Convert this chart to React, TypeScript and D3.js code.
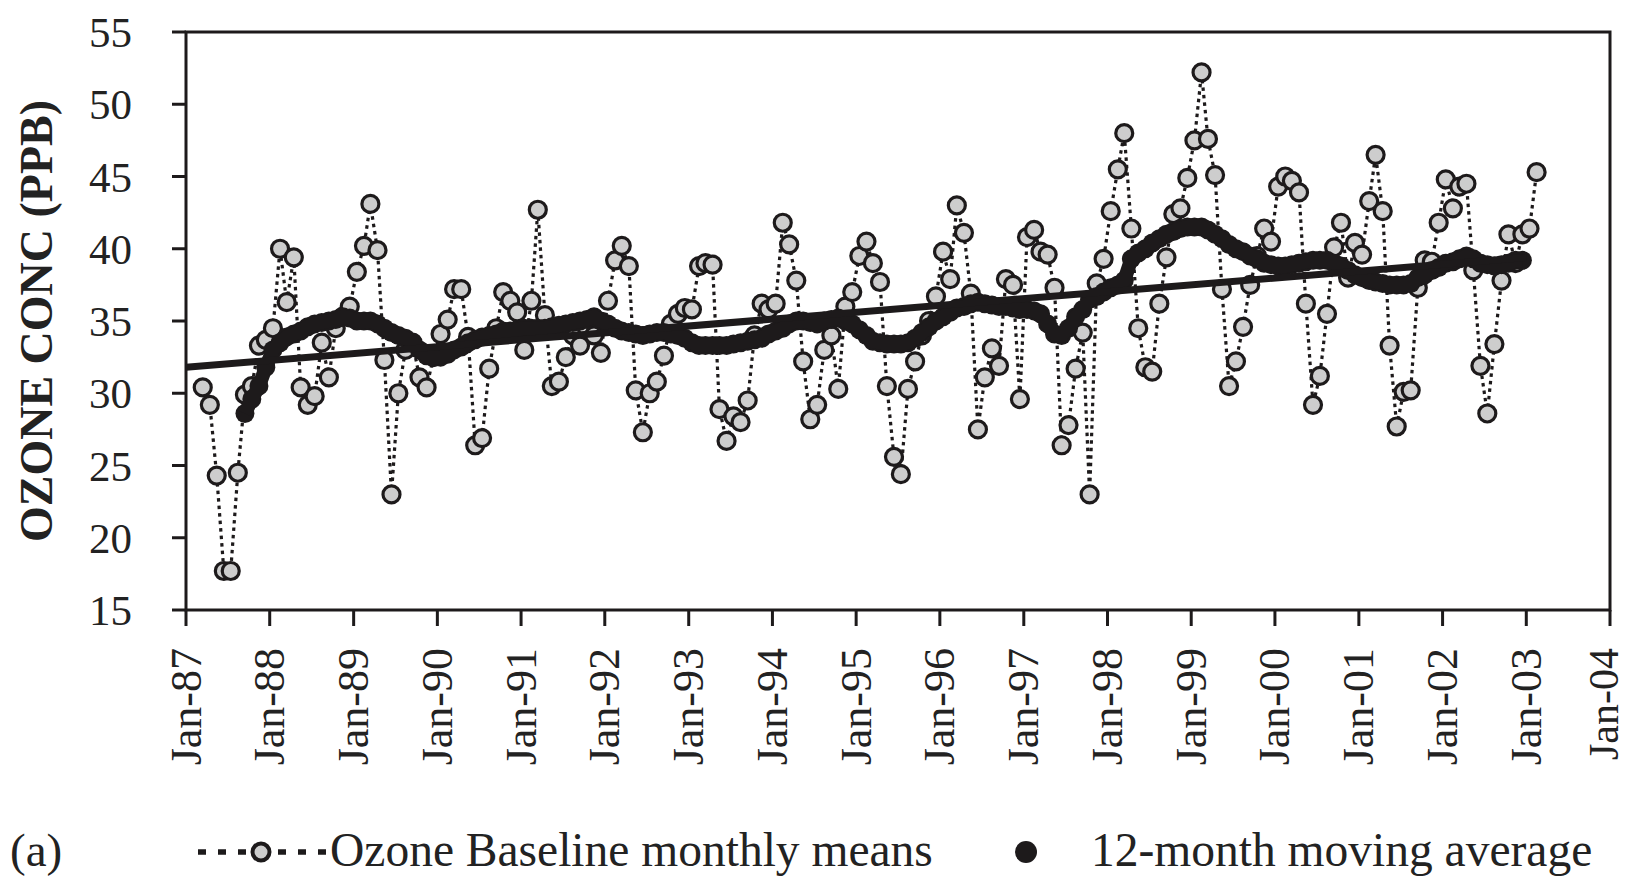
import React from "react";
import * as d3 from "d3";

const WIDTH = 1629;
const HEIGHT = 877;

// Ozone baseline monthly means (ppb), first value = March 1987
const monthlyStartYear = 1987;
const monthlyStartMonth = 2; // 0-based month index (March)
const means1987 = [30.4, 29.2, 24.3, 17.7, 17.7, 24.5, 29.9, 30.5, 33.3, 33.7];
const means1988 = [34.5, 40.0, 36.3, 39.4, 30.4, 29.2, 29.8, 33.5, 31.1, 34.5, 35.3, 36.0];
const means1989 = [38.4, 40.2, 43.1, 39.9, 32.3, 23.0, 30.0, 33.0, 33.5, 31.1, 30.4, 32.5];
const means1990 = [34.1, 35.1, 37.2, 37.2, 33.9, 26.4, 26.9, 31.7, 34.5, 37.0, 36.4, 35.6];
const means1991 = [33.0, 36.4, 42.7, 35.4, 30.5, 30.8, 32.5, 34.0, 33.3, 34.5, 34.0, 32.8];
const means1992 = [36.4, 39.2, 40.2, 38.8, 30.2, 27.3, 30.0, 30.8, 32.6, 34.8, 35.5, 35.9];
const means1993 = [35.8, 38.8, 39.0, 38.9, 28.9, 26.7, 28.4, 28.0, 29.5, 34.0, 36.2, 35.8];
const means1994 = [36.2, 41.8, 40.3, 37.8, 32.2, 28.2, 29.2, 33.0, 34.0, 30.3, 36.0, 37.0];
const means1995 = [39.5, 40.5, 39.0, 37.7, 30.5, 25.6, 24.4, 30.3, 32.2, 34.0, 35.0, 36.7];
const means1996 = [39.8, 37.9, 43.0, 41.1, 36.9, 27.5, 31.1, 33.1, 31.9, 37.9, 37.5, 29.6];
const means1997 = [40.8, 41.3, 39.8, 39.6, 37.3, 26.4, 27.8, 31.7, 34.2, 23.0, 37.6, 39.3];
const means1998 = [42.6, 45.5, 48.0, 41.4, 34.5, 31.8, 31.5, 36.2, 39.4, 42.4, 42.8, 44.9];
const means1999 = [47.5, 52.2, 47.6, 45.1, 37.2, 30.5, 32.2, 34.6, 37.5, 39.5, 41.4, 40.5];
const means2000 = [44.3, 45.0, 44.7, 43.9, 36.2, 29.2, 31.2, 35.5, 40.1, 41.8, 38.0, 40.4];
const means2001 = [39.6, 43.3, 46.5, 42.6, 33.3, 27.7, 30.1, 30.2, 37.3, 39.2, 39.1, 41.8];
const means2002 = [44.8, 42.8, 44.3, 44.5, 38.5, 31.9, 28.6, 33.4, 37.8, 41.0, 39.0, 41.0];
const means2003 = [41.4, 45.3];

// 12-month moving average (ppb), first value = September 1987
const maStartYear = 1987;
const maStartMonth = 8;
const ma1987 = [28.6, 29.6, 30.5, 31.8];
const ma1988 = [33.0, 33.5, 33.9, 34.1, 34.3, 34.6, 34.8, 34.9, 35.0, 35.1, 35.3, 35.2];
const ma1989 = [35.0, 35.0, 35.0, 34.8, 34.5, 34.2, 34.0, 33.8, 33.5, 33.0, 32.6, 32.5];
const ma1990 = [32.5, 32.7, 33.0, 33.2, 33.5, 33.7, 33.9, 34.0, 34.1, 34.3, 34.3, 34.4];
const ma1991 = [34.5, 34.5, 34.5, 34.5, 34.6, 34.7, 34.8, 34.9, 35.0, 35.1, 35.3, 35.0];
const ma1992 = [34.8, 34.5, 34.3, 34.2, 34.1, 34.0, 34.1, 34.2, 34.2, 34.1, 34.0, 33.8];
const ma1993 = [33.5, 33.3, 33.3, 33.3, 33.3, 33.3, 33.4, 33.5, 33.6, 33.7, 33.8, 34.1];
const ma1994 = [34.3, 34.5, 34.8, 35.0, 35.0, 34.9, 34.8, 35.0, 35.1, 35.2, 35.0, 34.8];
const ma1995 = [34.4, 34.0, 33.6, 33.5, 33.4, 33.4, 33.4, 33.5, 33.8, 34.2, 34.6, 35.0];
const ma1996 = [35.3, 35.6, 35.9, 36.0, 36.2, 36.3, 36.2, 36.1, 36.0, 36.0, 35.9, 35.8];
const ma1997 = [35.8, 35.7, 35.5, 34.8, 34.1, 34.0, 34.5, 35.3, 35.8, 36.5, 36.7, 37.0];
const ma1998 = [37.3, 37.5, 37.8, 39.3, 39.7, 40.0, 40.4, 40.7, 41.0, 41.2, 41.4, 41.5];
const ma1999 = [41.5, 41.5, 41.3, 41.0, 40.7, 40.3, 40.0, 39.8, 39.5, 39.3, 39.0, 38.9];
const ma2000 = [38.8, 38.8, 38.9, 39.0, 39.1, 39.2, 39.2, 39.2, 39.0, 38.8, 38.5, 38.2];
const ma2001 = [38.0, 37.8, 37.7, 37.6, 37.5, 37.5, 37.5, 37.6, 38.0, 38.2, 38.5, 38.7];
const ma2002 = [39.0, 39.1, 39.3, 39.5, 39.3, 39.0, 38.9, 38.8, 38.9, 39.0, 39.2, 39.2];

// Linear trend end points
const trendYears = [1987, 2003];
const trendValues = [31.8, 39.4];

const yTicks = [15, 20, 25, 30, 35, 40, 45, 50, 55];
const xTickYears = [1987, 1988, 1989, 1990, 1991, 1992, 1993, 1994, 1995, 1996, 1997, 1998, 1999, 2000, 2001, 2002, 2003, 2004];

const yTitle = "OZONE CONC (PPB)";
const legendMeans = "Ozone Baseline monthly means";
const legendMA = "12-month moving average";
const panelLabel = "(a)";

const monthlyMeans = [
  ...means1987, ...means1988, ...means1989, ...means1990, ...means1991, ...means1992,
  ...means1993, ...means1994, ...means1995, ...means1996, ...means1997, ...means1998,
  ...means1999, ...means2000, ...means2001, ...means2002, ...means2003,
];
const movingAverage = [
  ...ma1987, ...ma1988, ...ma1989, ...ma1990, ...ma1991, ...ma1992, ...ma1993, ...ma1994,
  ...ma1995, ...ma1996, ...ma1997, ...ma1998, ...ma1999, ...ma2000, ...ma2001, ...ma2002,
];

const FONT = "'Liberation Serif', 'Times New Roman', Times, serif";

export default function App() {
  const left = 186, right = 1610, top = 32, bottom = 610;
  const x = d3.scaleTime()
    .domain([new Date(1987, 0, 1), new Date(2004, 0, 1)])
    .range([left, right]);
  const y = d3.scaleLinear().domain([15, 55]).range([bottom, top]);

  const meanPts = monthlyMeans.map((v, i) => ({
    date: new Date(monthlyStartYear, monthlyStartMonth + i, 15),
    v,
  }));
  const maPts = movingAverage.map((v, i) => ({
    date: new Date(maStartYear, maStartMonth + i, 15),
    v,
  }));
  const trendPts = trendYears.map((yr, i) => ({ date: new Date(yr, 0, 1), v: trendValues[i] }));

  const line = d3.line<{ date: Date; v: number }>()
    .x((d) => x(d.date))
    .y((d) => y(d.v));

  const fmt = d3.timeFormat("%b-%y");
  const ink = "#1d1a1b";
  const lastYear = xTickYears[xTickYears.length - 1];

  return (
    <svg
      width={WIDTH}
      height={HEIGHT}
      style={{ position: "absolute", left: 0, top: 0, display: "block", background: "#fff" }}
      fontFamily={FONT}
    >
      {/* dotted connecting line */}
      <path d={line(meanPts) || ""} fill="none" stroke={ink} strokeWidth={3.2} strokeDasharray="3.5,4" />
      {/* monthly mean markers */}
      {meanPts.map((d, i) => (
        <circle key={"m" + i} cx={x(d.date)} cy={y(d.v)} r={8.5} fill="#cdcdcd" stroke={ink} strokeWidth={3.2} />
      ))}
      {/* moving average */}
      {maPts.map((d, i) => (
        <circle key={"a" + i} cx={x(d.date)} cy={y(d.v)} r={9.5} fill={ink} />
      ))}
      <path d={line(maPts) || ""} fill="none" stroke={ink} strokeWidth={14} strokeLinejoin="round" />
      {/* trend line */}
      <path d={line(trendPts) || ""} fill="none" stroke={ink} strokeWidth={7} />

      {/* frame */}
      <rect x={left} y={top} width={right - left} height={bottom - top} fill="none" stroke={ink} strokeWidth={3} />

      {/* y axis ticks & labels */}
      {yTicks.map((t) => (
        <g key={"y" + t}>
          <line x1={left - 14} x2={left} y1={y(t)} y2={y(t)} stroke={ink} strokeWidth={3} />
          <text x={132} y={y(t)} dy="0.35em" textAnchor="end" fontSize={43} fill="#222">
            {t}
          </text>
        </g>
      ))}

      {/* x axis ticks & labels */}
      {xTickYears.map((yr) => {
        const d = new Date(yr, 0, 1);
        const xx = x(d);
        return (
          <g key={"x" + yr}>
            <line x1={xx} x2={xx} y1={bottom} y2={bottom + 16} stroke={ink} strokeWidth={3} />
            <text
              transform={`translate(${xx},648) rotate(-90)`}
              dy={yr === lastYear ? "0.2em" : "0.33em"}
              textAnchor="end"
              fontSize={yr === lastYear ? 42 : 44}
              fill="#222"
            >
              {fmt(d)}
            </text>
          </g>
        );
      })}

      {/* y title */}
      <text
        transform={`translate(52,${(top + bottom) / 2}) rotate(-90)`}
        textAnchor="middle"
        fontSize={46}
        fontWeight="bold"
        fill="#222"
      >
        {yTitle}
      </text>

      {/* legend */}
      <text x={10} y={866} fontSize={47} fill="#222">{panelLabel}</text>
      <line x1={198} x2={326} y1={852} y2={852} stroke={ink} strokeWidth={5.5} strokeDasharray="8,12" />
      <circle cx={261} cy={852} r={8.5} fill="#cdcdcd" stroke={ink} strokeWidth={4} />
      <text x={330} y={866} fontSize={47.5} fill="#222">{legendMeans}</text>
      <circle cx={1026} cy={852} r={11} fill={ink} />
      <text x={1091} y={866} fontSize={47.5} fill="#222">{legendMA}</text>
    </svg>
  );
}
